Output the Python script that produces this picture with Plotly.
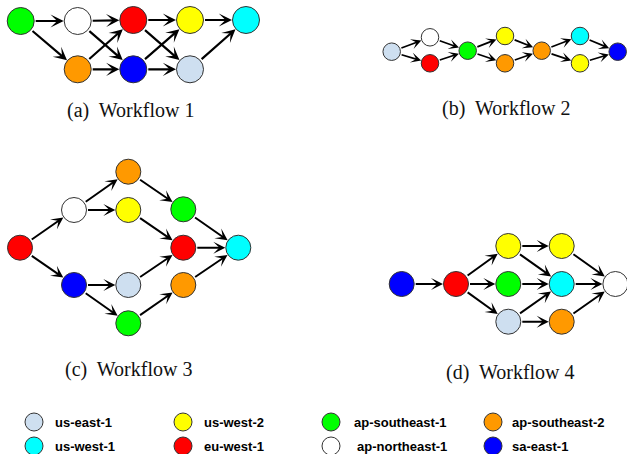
import plotly.graph_objects as go

# ---- region colours (legend) ----
regions = ["us-east-1", "us-west-2", "ap-southeast-1", "ap-southeast-2",
           "us-west-1", "eu-west-1", "ap-northeast-1", "sa-east-1"]
region_colors = {
    "us-east-1": "#cedff0",
    "us-west-2": "#ffff00",
    "ap-southeast-1": "#00ff00",
    "ap-southeast-2": "#ff9900",
    "us-west-1": "#00ffff",
    "eu-west-1": "#ff0000",
    "ap-northeast-1": "#ffffff",
    "sa-east-1": "#0000ff",
}

# ---- Workflow 1 ----
w1_nodes = ["ap-southeast-1", "ap-northeast-1", "ap-southeast-2", "eu-west-1",
            "sa-east-1", "us-west-2", "us-east-1", "us-west-1"]
w1_x = [20.7, 77.7, 77.7, 133.3, 133.3, 190, 190, 246]
w1_y = [21, 21, 69.3, 20, 69.3, 20, 69.3, 20]
w1_edges = [(0, 1), (0, 2), (1, 3), (1, 4), (2, 3), (2, 4),
            (3, 5), (3, 6), (4, 5), (4, 6), (5, 7), (6, 7)]

# ---- Workflow 2 ----
w2_nodes = ["us-east-1", "ap-northeast-1", "eu-west-1", "ap-southeast-1",
            "us-west-2", "ap-southeast-2", "ap-southeast-2", "us-west-1",
            "us-west-2", "sa-east-1"]
w2_x = [391.7, 430, 430, 467.7, 505, 505, 541.7, 580, 580, 617.7]
w2_y = [51.7, 37.3, 63.3, 50.7, 36, 63.3, 50.7, 36, 63.3, 51.7]
w2_edges = [(0, 1), (0, 2), (1, 3), (2, 3), (3, 4), (3, 5), (4, 6), (5, 6),
            (6, 7), (6, 8), (7, 9), (8, 9)]

# ---- Workflow 3 ----
w3_nodes = ["eu-west-1", "ap-northeast-1", "sa-east-1", "ap-southeast-2",
            "us-west-2", "us-east-1", "ap-southeast-1", "ap-southeast-1",
            "eu-west-1", "ap-southeast-2", "us-west-1"]
w3_x = [20, 74, 74, 128.3, 128.3, 128.3, 128.3, 183.3, 183.3, 183.3, 238.3]
w3_y = [247.7, 210, 285, 171.7, 210, 285, 323.3, 209.3, 247.7, 285, 247.7]
w3_edges = [(0, 1), (0, 2), (1, 3), (1, 4), (2, 5), (2, 6), (3, 7), (4, 8),
            (5, 8), (6, 9), (7, 10), (8, 10), (9, 10)]

# ---- Workflow 4 ----
w4_nodes = ["sa-east-1", "eu-west-1", "us-west-2", "ap-southeast-1",
            "us-east-1", "us-west-2", "us-west-1", "ap-southeast-2",
            "ap-northeast-1"]
w4_x = [401.7, 456, 508.3, 508.3, 508.3, 561.7, 561.7, 561.7, 615.4]
w4_y = [284, 284, 246, 284, 321.7, 246, 284, 321.7, 284]
w4_edges = [(0, 1), (1, 2), (1, 3), (1, 4), (2, 5), (2, 6), (3, 6), (4, 6),
            (4, 7), (5, 8), (6, 8), (7, 8)]

captions = ["(a)  Workflow 1", "(b)  Workflow 2", "(c)  Workflow 3", "(d)  Workflow 4"]
caption_x = [130, 506, 128, 510]
caption_y = [110, 108, 369, 372]

# legend layout
legend_x = [34, 183, 331, 493, 34, 183, 331, 493]
legend_y = [422, 422, 422, 422, 446, 446, 446, 446]
legend_text_x = [53, 202, 352, 510, 53, 202, 355, 510]

W, H = 627, 454
fig = go.Figure()
annotations = []

workflows = [
    (w1_nodes, w1_x, w1_y, w1_edges, 27, 2.2),
    (w2_nodes, w2_x, w2_y, w2_edges, 17.5, 1.7),
    (w3_nodes, w3_x, w3_y, w3_edges, 25, 2.0),
    (w4_nodes, w4_x, w4_y, w4_edges, 25, 2.0),
]

for nodes, xs, ys, edges, size, lw in workflows:
    r = size / 2
    for s, t in edges:
        annotations.append(dict(
            x=xs[t], y=ys[t], ax=xs[s], ay=ys[s],
            xref="x", yref="y", axref="x", ayref="y",
            showarrow=True, text="", arrowhead=3, arrowsize=1.0,
            arrowwidth=lw, arrowcolor="#000000",
            standoff=r + 0.5, startstandoff=r,
        ))
    fig.add_trace(go.Scatter(
        x=xs, y=ys, mode="markers", hoverinfo="skip", showlegend=False,
        marker=dict(size=size, color=[region_colors[n] for n in nodes],
                    line=dict(color="#333333", width=1)),
    ))

for cap, cx, cy in zip(captions, caption_x, caption_y):
    annotations.append(dict(
        x=cx, y=cy, xref="x", yref="y", text=cap, showarrow=False,
        font=dict(family="Liberation Serif", size=20, color="#111111"),
        xanchor="center", yanchor="middle",
    ))

fig.add_trace(go.Scatter(
    x=legend_x, y=legend_y, mode="markers", hoverinfo="skip", showlegend=False,
    marker=dict(size=18, color=[region_colors[n] for n in regions],
                line=dict(color="#333333", width=1)),
))
for name, tx, ty in zip(regions, legend_text_x, legend_y):
    annotations.append(dict(
        x=tx, y=ty, xref="x", yref="y", text="<b>" + name + "</b>",
        showarrow=False, xanchor="left", yanchor="middle",
        font=dict(family="Liberation Sans", size=13, color="#000000"),
    ))

fig.update_layout(
    width=W, height=H, autosize=False,
    margin=dict(l=0, r=0, t=0, b=0),
    paper_bgcolor="white", plot_bgcolor="white",
    xaxis=dict(range=[0, W], visible=False, fixedrange=True),
    yaxis=dict(range=[H, 0], visible=False, fixedrange=True),
    annotations=annotations,
)
fig.write_html("out.html", config={"displayModeBar": False},
               post_script="document.body.style.margin='0px';"
                           "document.body.style.overflow='hidden';")
